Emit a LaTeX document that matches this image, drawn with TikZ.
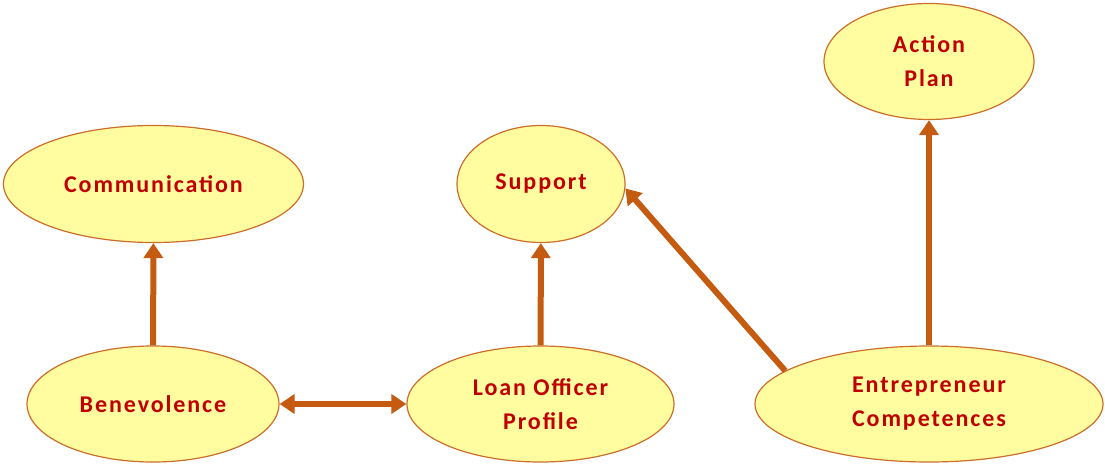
\documentclass[tikz,border=0pt]{standalone}
\usepackage{fontspec}
\setmainfont[LetterSpace=8]{Carlito}
\usetikzlibrary{shapes.geometric,arrows.meta}
\definecolor{efill}{HTML}{FFFDA0}
\definecolor{edraw}{HTML}{CC6E2A}
\definecolor{etext}{HTML}{C00000}
\definecolor{arrc}{HTML}{C55A11}
\begin{document}
\begin{tikzpicture}[x=1pt,y=-1pt,
  bubble/.style={ellipse,draw=edraw,line width=1.2pt,fill=efill,inner sep=0pt,
    text=etext,font=\fontsize{24}{34}\selectfont\bfseries,align=center},
  arr/.style={draw=arrc,line width=6pt,-{Triangle[length=15pt,width=19pt]}},
  darr/.style={draw=arrc,line width=6pt,{Triangle[length=15pt,width=19pt]}-{Triangle[length=15pt,width=19pt]}}]
\useasboundingbox (0,0) rectangle (1105,463);
\node[bubble,minimum width=300pt,minimum height=117pt] (comm) at (153.5,184) {Communication};
\node[bubble,minimum width=168pt,minimum height=117pt] (sup) at (541,184) {Support};
\node[bubble,minimum width=210pt,minimum height=116pt] (act) at (929,61.5) {Action\\Plan};
\node[bubble,minimum width=252pt,minimum height=116pt] (ben) at (153,404) {Benevolence};
\node[bubble,minimum width=267pt,minimum height=116pt] (loan) at (540.5,404) {Loan Officer\\Profile};
\node[bubble,minimum width=348pt,minimum height=116pt] (ent) at (929,404) {Entrepreneur\\Competences};
\draw[arr] (ben) -- (comm);
\draw[arr] (loan) -- (sup);
\draw[arr] (ent) -- (act);
\draw[arr] (ent.167) -- (sup.357);
\draw[darr] (ben) -- (loan);
\end{tikzpicture}
\end{document}
